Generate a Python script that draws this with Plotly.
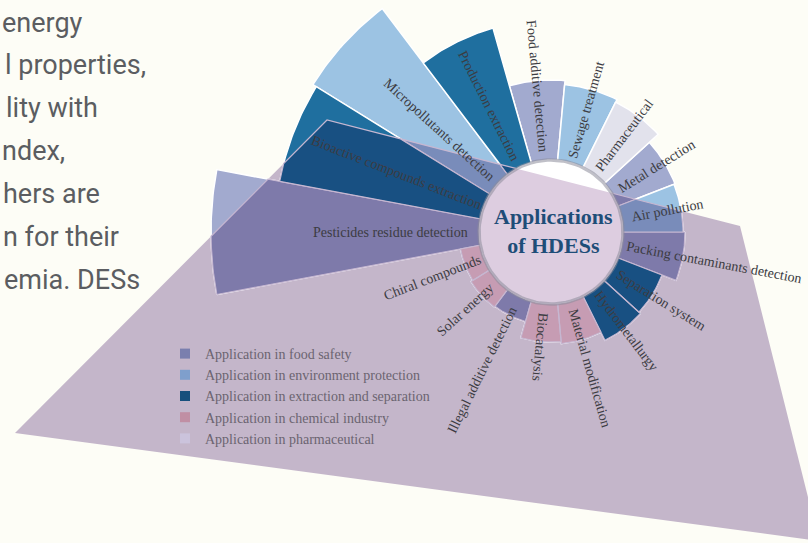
import numpy as np
import plotly.graph_objects as go

# ---------------- data ----------------
categories = [
    "Food additive detection", "Sewage treatment", "Pharmaceutical", "Metal detection",
    "Air pollution", "Packing contaminants detection", "Separation system", "Hydrometallurgy",
    "Material modification", "Biocatalysis", "Illegal additive detection", "Solar energy",
    "Chiral compounds", "Pesticides residue detection", "Bioactive compounds extraction",
    "Micropollutants detection", "Production extraction",
]
# bar length beyond the central hub
lengths = [80, 76, 73, 61, 60, 62, 47, 49, 40, 38, 21, 22, 20, 268, 204, 208, 140]
groups = ["food", "env", "pharma", "food", "env", "food", "extr", "extr",
          "chem", "chem", "food", "chem", "chem", "food", "extr", "env", "extr"]

group_order = ["food", "env", "extr", "chem", "pharma"]
group_names = {
    "food": "Application in food safety",
    "env": "Application in environment protection",
    "extr": "Application in extraction and separation",
    "chem": "Application in chemical industry",
    "pharma": "Application in pharmaceutical",
}
center_label = "<b>Applications</b><br><b>of HDESs</b>"
left_lines = ["energy", "l properties,", "lity with", "ndex,", "hers are", "n for their", "emia. DESs"]

# ---------------- styles / layout constants ----------------
bar_colors = {"food": (162, 170, 207), "env": (156, 195, 227), "extr": (31, 111, 159),
              "chem": (255, 218, 218), "pharma": (226, 226, 236)}
legend_colors = {"food": "#7a7fae", "env": "#7f9fcc", "extr": "#174f7c",
                 "chem": "#c08fa4", "pharma": "#cbc3dc"}
OVERLAY = (198, 183, 209)          # purple decoration, multiplied over what lies beneath
OVERLAY_PTS = [(15, 433), (327, 120), (740, 226), (819, 541)]
CX, CY = 551, 232
HUB = 72
LABEL_R0 = 82
THETA0 = -5.3
STEP = 360 / len(categories)
LABEL_FS = 14
left_x = [0, 3, 4, 0, 1, 1, 2]
left_y = [23, 65, 108, 151, 194, 237, 280]


def rgb(c):
    return "rgb(%d,%d,%d)" % tuple(int(round(v)) for v in c)


def mult(c):
    return tuple(a * b / 255 for a, b in zip(c, OVERLAY))


def _area_sign(poly):
    s = 0
    for i in range(len(poly)):
        x1, y1 = poly[i]
        x2, y2 = poly[(i + 1) % len(poly)]
        s += x1 * y2 - x2 * y1
    return 1 if s > 0 else -1


def clip_convex(subject, clip):
    sgn = _area_sign(clip)

    def inside(p, a, b):
        return sgn * ((b[0] - a[0]) * (p[1] - a[1]) - (b[1] - a[1]) * (p[0] - a[0])) >= 0

    def inter(p, q, a, b):
        x1, y1 = p; x2, y2 = q; x3, y3 = a; x4, y4 = b
        d = (x1 - x2) * (y3 - y4) - (y1 - y2) * (x3 - x4)
        t = ((x1 - x3) * (y3 - y4) - (y1 - y3) * (x3 - x4)) / d
        return (x1 + t * (x2 - x1), y1 + t * (y2 - y1))

    out = list(subject)
    for i in range(len(clip)):
        a, b = clip[i], clip[(i + 1) % len(clip)]
        inp, out = out, []
        if not inp:
            break
        prev = inp[-1]
        for cur in inp:
            if inside(cur, a, b):
                if not inside(prev, a, b):
                    out.append(inter(prev, cur, a, b))
                out.append(cur)
            elif inside(prev, a, b):
                out.append(inter(prev, cur, a, b))
            prev = cur
    return out


def sector(i):
    th = THETA0 + i * STEP
    a = np.radians(np.linspace(th - STEP / 2, th + STEP / 2, 30))
    r = HUB + lengths[i]
    pts = [(CX + r * np.sin(t), CY - r * np.cos(t)) for t in a]
    pts += [(CX + HUB * np.sin(t), CY - HUB * np.cos(t)) for t in a[::-1]]
    return pts


def to_xy(polys):
    xs, ys = [], []
    for p in polys:
        if len(p) < 3:
            continue
        xs += [q[0] for q in p] + [p[0][0], None]
        ys += [q[1] for q in p] + [p[0][1], None]
    return xs, ys


fig = go.Figure()

# bars as drawn on the page
for g in group_order:
    xs, ys = to_xy([sector(i) for i in range(len(categories)) if groups[i] == g])
    fig.add_trace(go.Scatter(x=xs, y=ys, mode="lines", fill="toself", fillcolor=rgb(bar_colors[g]),
                             line=dict(color="white", width=1.5), showlegend=False, hoverinfo="skip"))
# parts of the bars seen through the purple decoration
for g in group_order:
    xs, ys = to_xy([clip_convex(sector(i), OVERLAY_PTS)
                    for i in range(len(categories)) if groups[i] == g])
    fig.add_trace(go.Scatter(x=xs, y=ys, mode="lines", fill="toself", fillcolor=rgb(mult(bar_colors[g])),
                             line=dict(color=rgb(OVERLAY), width=1.2), showlegend=False, hoverinfo="skip"))

# central hub
ca = np.radians(np.linspace(0, 360, 121))
hub = [(CX + HUB * np.sin(t), CY - HUB * np.cos(t)) for t in ca]
xs, ys = to_xy([hub])
fig.add_trace(go.Scatter(x=xs, y=ys, mode="lines", fill="toself", fillcolor="#ffffff",
                         line=dict(width=0), showlegend=False, hoverinfo="skip"))
xs, ys = to_xy([clip_convex(hub, OVERLAY_PTS)])
fig.add_trace(go.Scatter(x=xs, y=ys, mode="lines", fill="toself", fillcolor="#ddcde0",
                         line=dict(width=0), showlegend=False, hoverinfo="skip"))
fig.add_trace(go.Scatter(x=[p[0] for p in hub], y=[p[1] for p in hub], mode="lines",
                         line=dict(color="rgba(140,140,155,0.55)", width=3.5),
                         showlegend=False, hoverinfo="skip"))

for g in group_order:
    fig.add_trace(go.Scatter(x=[None], y=[None], mode="markers", name=group_names[g],
                             marker=dict(symbol="square", size=10, color=legend_colors[g])))

annotations = []
for i, cat in enumerate(categories):
    th = (THETA0 + i * STEP) % 360
    w = len(cat) * 0.40 * LABEL_FS
    rc = LABEL_R0 + w / 2
    ang = th - 90 if th < 190 else th - 270
    annotations.append(dict(
        x=CX + rc * np.sin(np.radians(th)), y=CY - rc * np.cos(np.radians(th)),
        text=cat, textangle=ang, showarrow=False, xanchor="center", yanchor="middle",
        font=dict(family="Liberation Serif", size=LABEL_FS, color="#3c3c42")))

annotations.append(dict(x=CX + 2, y=CY - 1, text=center_label, showarrow=False,
                        font=dict(family="Liberation Serif", size=22, color="#1e4d78")))

for t, x, y in zip(left_lines, left_x, left_y):
    annotations.append(dict(x=x, y=y, text=t, showarrow=False, xanchor="left",
                            yanchor="middle",
                            font=dict(family="Roboto", size=27, color="#5b5d61")))

overlay_path = "M " + " L ".join("%g,%g" % p for p in OVERLAY_PTS) + " Z"
shapes = [dict(type="path", xref="x", yref="y", path=overlay_path,
               fillcolor=rgb(mult((253, 253, 246))), line=dict(width=0), layer="below")]

fig.update_layout(
    width=808, height=543, margin=dict(l=0, r=0, t=0, b=0),
    paper_bgcolor="#fdfdf6", plot_bgcolor="#fdfdf6",
    xaxis=dict(range=[0, 808], visible=False, fixedrange=True),
    yaxis=dict(range=[543, 0], visible=False, fixedrange=True),
    showlegend=True,
    legend=dict(x=165 / 808, y=1 - 338 / 543, xanchor="left", yanchor="top",
                bgcolor="rgba(0,0,0,0)", font=dict(family="Liberation Serif", size=14, color="#6b6470"),
                tracegroupgap=0, itemclick=False, itemdoubleclick=False),
    annotations=annotations, shapes=shapes,
)

post = "document.body.style.margin='0';document.body.style.background='#fdfdf6';"
fig.write_html("out.html", post_script=post, config={"displayModeBar": False})
